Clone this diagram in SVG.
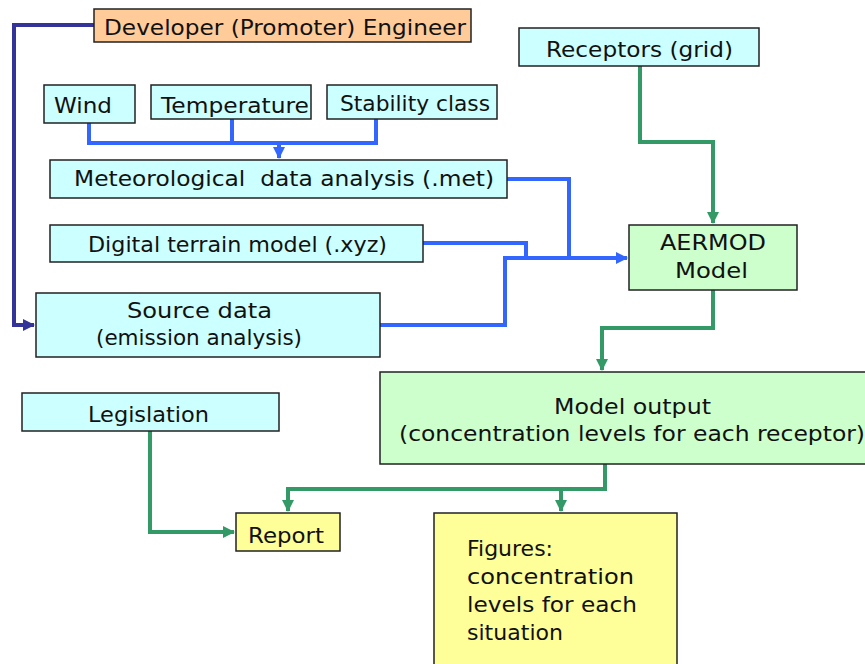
<svg xmlns="http://www.w3.org/2000/svg" width="865" height="664" viewBox="0 0 865 664">
<defs>
<style>
.box{stroke:#222;stroke-width:1.5}
.cyan{fill:#ccffff}
.grn{fill:#ccffcc}
.yel{fill:#ffff99}
.org{fill:#ffcc99}
text{font-family:"DejaVu Sans","Liberation Sans",sans-serif;font-size:21px;fill:#111;white-space:pre}
.bl{fill:none;stroke:#3366ff;stroke-width:4}
.nv{fill:none;stroke:#333399;stroke-width:4}
.gr{fill:none;stroke:#339966;stroke-width:4}
</style>
<marker id="ab" markerWidth="14" markerHeight="14" refX="11" refY="6" orient="auto" markerUnits="userSpaceOnUse"><path d="M0,0L12,6L0,12z" fill="#3366ff"/></marker>
<marker id="an" markerWidth="14" markerHeight="14" refX="11" refY="6" orient="auto" markerUnits="userSpaceOnUse"><path d="M0,0L12,6L0,12z" fill="#333399"/></marker>
<marker id="ag" markerWidth="14" markerHeight="14" refX="11" refY="6" orient="auto" markerUnits="userSpaceOnUse"><path d="M0,0L12,6L0,12z" fill="#339966"/></marker>
</defs>
<g id="connectors">
<path class="nv" d="M94,25H14V325H34" marker-end="url(#an)"/>
<path class="bl" d="M89,123V143H376V119M232,119V143"/>
<path class="bl" d="M279,143V158" marker-end="url(#ab)"/>
<path class="bl" d="M507,179H569V258"/>
<path class="bl" d="M423,243H526V258"/>
<path class="bl" d="M380,325H505V258H627" marker-end="url(#ab)"/>
<path class="gr" d="M640,66V142H713V223" marker-end="url(#ag)"/>
<path class="gr" d="M713,290V328H602V370" marker-end="url(#ag)"/>
<path class="gr" d="M605,464V489H288V511" marker-end="url(#ag)"/>
<path class="gr" d="M561,489V511" marker-end="url(#ag)"/>
<path class="gr" d="M150,431V532H234" marker-end="url(#ag)"/>
</g>
<g id="developer"><rect class="box org" x="94" y="9" width="377" height="33"/><text x="104" y="35" textLength="362" lengthAdjust="spacingAndGlyphs">Developer (Promoter) Engineer</text></g>
<g id="receptors"><rect class="box cyan" x="519" y="28" width="240" height="38"/><text x="546" y="57" textLength="187" lengthAdjust="spacingAndGlyphs">Receptors (grid)</text></g>
<g id="wind"><rect class="box cyan" x="44" y="85" width="91" height="38"/><text x="54" y="113" textLength="58" lengthAdjust="spacingAndGlyphs">Wind</text></g>
<g id="temperature"><rect class="box cyan" x="151" y="85" width="160" height="34"/><text x="161" y="113" textLength="148" lengthAdjust="spacingAndGlyphs">Temperature</text></g>
<g id="stability"><rect class="box cyan" x="327" y="85" width="170" height="34"/><text x="340" y="111" textLength="150" lengthAdjust="spacingAndGlyphs">Stability class</text></g>
<g id="met"><rect class="box cyan" x="50" y="160" width="457" height="38"/><text x="74" y="186" textLength="420" lengthAdjust="spacingAndGlyphs">Meteorological  data analysis (.met)</text></g>
<g id="terrain"><rect class="box cyan" x="50" y="225" width="373" height="37"/><text x="88" y="252" textLength="299" lengthAdjust="spacingAndGlyphs">Digital terrain model (.xyz)</text></g>
<g id="source"><rect class="box cyan" x="36" y="293" width="344" height="64"/><text x="127" y="318" textLength="145" lengthAdjust="spacingAndGlyphs">Source data</text><text x="96" y="345" textLength="206" lengthAdjust="spacingAndGlyphs">(emission analysis)</text></g>
<g id="aermod"><rect class="box grn" x="629" y="225" width="168" height="65"/><text x="660" y="250" textLength="106" lengthAdjust="spacingAndGlyphs">AERMOD</text><text x="675" y="278" textLength="73" lengthAdjust="spacingAndGlyphs">Model</text></g>
<g id="output"><rect class="box grn" x="380" y="372" width="490" height="92"/><text x="554" y="414" textLength="157" lengthAdjust="spacingAndGlyphs">Model output</text><text x="399" y="441" textLength="466" lengthAdjust="spacingAndGlyphs">(concentration levels for each receptor)</text></g>
<g id="legislation"><rect class="box cyan" x="22" y="393" width="257" height="38"/><text x="88" y="422" textLength="121" lengthAdjust="spacingAndGlyphs">Legislation</text></g>
<g id="report"><rect class="box yel" x="236" y="513" width="104" height="38"/><text x="248" y="543" textLength="76" lengthAdjust="spacingAndGlyphs">Report</text></g>
<g id="figures"><rect class="box yel" x="434" y="513" width="243" height="160"/><text x="467" y="556" textLength="86" lengthAdjust="spacingAndGlyphs">Figures:</text><text x="467" y="584" textLength="167" lengthAdjust="spacingAndGlyphs">concentration</text><text x="467" y="612" textLength="170" lengthAdjust="spacingAndGlyphs">levels for each</text><text x="467" y="640" textLength="96" lengthAdjust="spacingAndGlyphs">situation</text></g>
</svg>
